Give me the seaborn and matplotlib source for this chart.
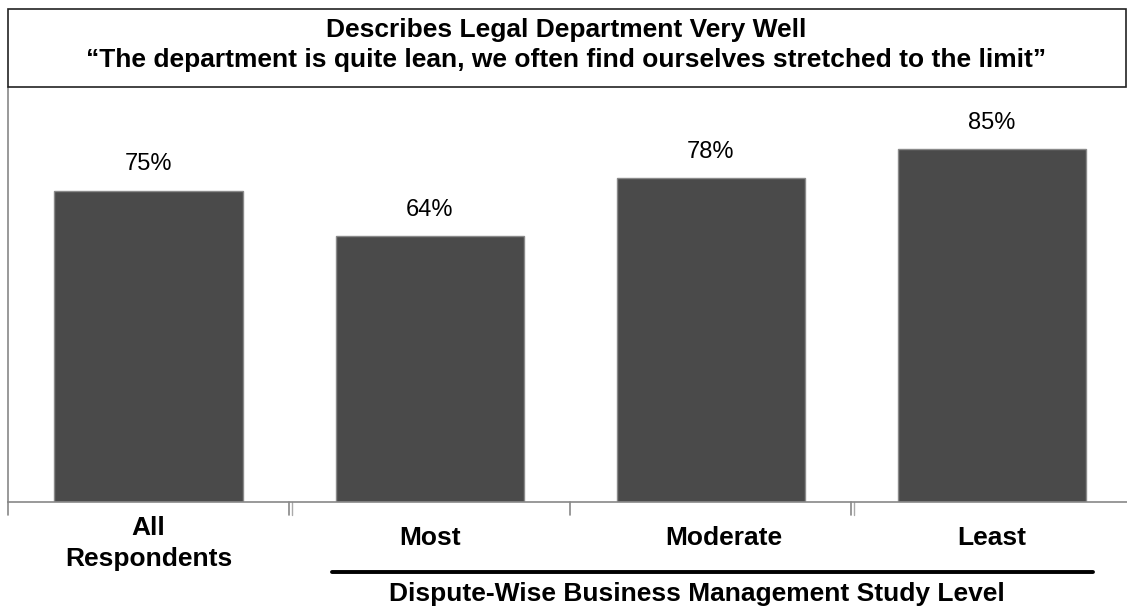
import matplotlib
matplotlib.use("Agg")
import matplotlib.pyplot as plt
import seaborn as sns
import pandas as pd
from matplotlib.patches import Rectangle
from matplotlib.lines import Line2D

categories = ["All\nRespondents", "Most", "Moderate", "Least"]
values = [75, 64, 78, 85]
value_labels = ["75%", "64%", "78%", "85%"]
title_lines = ["Describes Legal Department Very Well",
               "\u201cThe department is quite lean, we often find ourselves stretched to the limit\u201d"]
group_label = "Dispute-Wise Business Management Study Level"

sns.set_style("white")
plt.rcParams['font.family'] = ['Liberation Sans', 'DejaVu Sans']
plt.rcParams['text.color'] = 'black'

W, H = 1127, 610
fig = plt.figure(figsize=(W/100, H/100), dpi=100)
ax = fig.add_axes([8/W, 1-502/H, (1127-8)/W, (502-87)/H])

df = pd.DataFrame({"cat": categories, "val": values})
sns.barplot(data=df, x="cat", y="val", ax=ax, color="#4a4a4a", width=0.67,
            edgecolor="#8a8a8a", linewidth=1, saturation=1)
ax.set_ylim(0, 100)
ax.set_xlim(-0.5, 3.48)
ax.set_xlabel("")
ax.set_ylabel("")
ax.set_yticks([])
ax.set_xticks([])
for s in ["top", "right"]:
    ax.spines[s].set_visible(False)
ax.spines["left"].set_color("#888888")
ax.spines["bottom"].set_color("#888888")
ax.spines["left"].set_linewidth(1.2)
ax.spines["bottom"].set_linewidth(1.2)

for i, (v, lab) in enumerate(zip(values, value_labels)):
    ax.text(i, v + 6.4, lab, ha="center", va="center", fontsize=17, color="black")

def px(x, y):
    return (x / W, 1 - y / H)

# tick marks below the baseline
for xb in [-0.5, 0.5, 1.5, 2.5]:
    ax.plot([xb, xb], [0, -3.1], color="#888888", lw=1.2, clip_on=False)
for xb in [0.5, 2.5]:
    ax.plot([xb + 0.01, xb + 0.01], [0, -3.1], color="#aaaaaa", lw=1.0, clip_on=False)

# category labels
label_shift = [0, 0, 0.045, 0]
for i, c in enumerate(categories):
    if "\n" in c:
        ax.text(i + label_shift[i], -3.4, c, ha="center", va="top", fontsize=19,
                fontweight="bold", linespacing=1.35)
    else:
        ax.text(i + label_shift[i], -8.6, c, ha="center", va="center", fontsize=19,
                fontweight="bold")

# group line and label
x0, y0 = px(332, 572)
x1, _ = px(1093, 572)
fig.add_artist(Line2D([x0, x1], [y0, y0], color="black", lw=2.8))
fig.text(697 / W, 1 - 594 / H, group_label, ha="center", va="center",
         fontsize=19, fontweight="bold")

# title box
bx0, by1 = px(8, 9)
bx1, by0 = px(1126, 87)
fig.add_artist(Rectangle((bx0, by0), bx1 - bx0, by1 - by0, fill=False,
                         edgecolor="#222222", lw=1.2, transform=fig.transFigure))
fig.text(566 / W, 1 - 30.5 / H, title_lines[0], ha="center", va="center",
         fontsize=19, fontweight="bold")
fig.text(566 / W, 1 - 59.5 / H, title_lines[1], ha="center", va="center",
         fontsize=19, fontweight="bold")

fig.savefig("out.png", dpi=100)
